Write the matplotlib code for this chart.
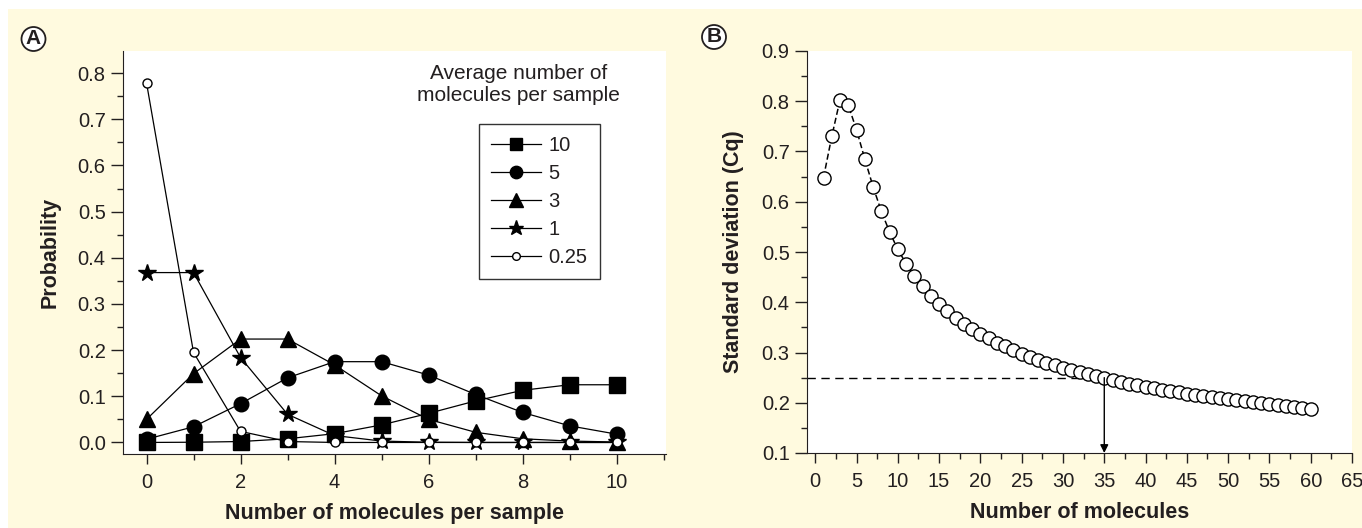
import numpy as np
import matplotlib.pyplot as plt
from matplotlib.patches import Rectangle
from matplotlib.ticker import MultipleLocator

plt.rcParams['font.family'] = ['Liberation Sans', 'DejaVu Sans']

# Panel A: probability of n molecules per sample
n_vals = list(range(11))
p10 = [0.0, 0.0005, 0.002, 0.008, 0.019, 0.038, 0.063, 0.090, 0.113, 0.125, 0.125]
p5 = [0.007, 0.034, 0.084, 0.140, 0.175, 0.175, 0.146, 0.104, 0.065, 0.036, 0.018]
p3 = [0.050, 0.149, 0.224, 0.224, 0.168, 0.101, 0.050, 0.022, 0.008, 0.003, 0.001]
p1 = [0.368, 0.368, 0.184, 0.061, 0.015, 0.003, 0.0005, 0.0, 0.0, 0.0, 0.0]
p025 = [0.779, 0.195, 0.024, 0.002, 0.0, 0.0, 0.0, 0.0, 0.0, 0.0, 0.0]

# Panel B: standard deviation of Cq vs number of molecules
mol = list(range(1, 61))
sd = [0.648, 0.730, 0.803, 0.792, 0.743, 0.685, 0.630, 0.581, 0.540, 0.505,
      0.477, 0.453, 0.432, 0.413, 0.397, 0.382, 0.369, 0.357, 0.347, 0.337,
      0.328, 0.319, 0.312, 0.305, 0.298, 0.292, 0.286, 0.280, 0.275, 0.270,
      0.265, 0.261, 0.257, 0.253, 0.249, 0.245, 0.241, 0.238, 0.235, 0.232,
      0.229, 0.226, 0.223, 0.221, 0.218, 0.216, 0.214, 0.211, 0.209, 0.207,
      0.205, 0.203, 0.201, 0.199, 0.197, 0.195, 0.194, 0.192, 0.190, 0.188]
target_sd = 0.25
target_n = 35

fig = plt.figure(figsize=(13.62, 5.28), dpi=100)
fig.patch.set_facecolor('white')
fig.patches.append(Rectangle((8/1362, 0), 1, 519/528, transform=fig.transFigure,
                             facecolor='#fffadf', edgecolor='none', zorder=-10))

txt = '#231f20'

def style(ax):
    ax.spines['top'].set_visible(False)
    ax.spines['right'].set_visible(False)
    ax.spines['left'].set_color(txt)
    ax.spines['bottom'].set_color(txt)
    ax.tick_params(which='both', direction='out', colors=txt, labelsize=14.5, width=1)
    ax.tick_params(axis='y', which='major', length=8.5, pad=4)
    ax.tick_params(axis='y', which='minor', length=4.5)
    ax.tick_params(axis='x', which='major', length=7.5, pad=6)
    ax.tick_params(axis='x', which='minor', length=4)
    ax.set_facecolor('white')

# ---- A ----
axA = fig.add_axes([123/1362, 1 - 454/528, 543/1362, 403/528])
style(axA)
lw = 0.9
axA.plot(n_vals, p10, '-s', color='black', ms=11, lw=lw, label='10')
axA.plot(n_vals, p5, '-o', color='black', ms=10.5, lw=lw, label='5')
axA.plot(n_vals, p3, '-^', color='black', ms=11.5, lw=lw, label='3')
axA.plot(n_vals, p1, '-*', color='black', ms=13, lw=lw, label='1')
axA.plot(n_vals, p025, '-o', color='black', mfc='white', ms=6.5, lw=lw, label='0.25')
axA.set_xlim(-0.5, 11.05)
axA.set_ylim(-0.025, 0.848)
axA.xaxis.set_major_locator(MultipleLocator(2))
axA.xaxis.set_minor_locator(MultipleLocator(1))
axA.yaxis.set_minor_locator(MultipleLocator(0.05))
axA.set_yticks(np.arange(0, 0.81, 0.1))
axA.set_yticklabels(['%.1f' % v for v in np.arange(0, 0.81, 0.1)])
axA.set_xlabel('Number of molecules per sample', fontsize=15.5, fontweight='bold',
               color=txt, labelpad=8)
axA.set_ylabel('Probability', fontsize=15.5, fontweight='bold', color=txt, labelpad=12)
leg = axA.legend(loc='upper left', bbox_to_anchor=((479 - 123)/543, 1 - (124 - 51)/403),
                 frameon=True, fancybox=False, edgecolor='black', fontsize=14.5,
                 handlelength=2.5, handletextpad=0.35, borderpad=0.6, labelspacing=0.45,
                 markerscale=0.85, borderaxespad=0)
leg.get_frame().set_linewidth(1)
for t in leg.get_texts():
    t.set_color(txt)
axA.text(0.729, 0.918, 'Average number of\nmolecules per sample', transform=axA.transAxes,
         ha='center', va='center', fontsize=15, color=txt, linespacing=1.2)

# ---- B ----
axB = fig.add_axes([807/1362, 1 - 453/528, 545/1362, 402/528])
style(axB)
axB.plot(mol, sd, linestyle=(0, (4, 2)), color='black', lw=1.1, marker='o', ms=9.5,
         mfc='white', mec='black', mew=1)
axB.plot([-1, target_n], [target_sd, target_sd], linestyle=(0, (6, 4)), color='black',
         lw=1, zorder=1)
axB.annotate('', xy=(target_n, 0.1), xytext=(target_n, target_sd),
             arrowprops=dict(arrowstyle='-|>', color='black', lw=1, mutation_scale=12,
                             shrinkA=0, shrinkB=0))
axB.set_xlim(-1, 65)
axB.set_ylim(0.1, 0.9)
axB.xaxis.set_major_locator(MultipleLocator(5))
axB.xaxis.set_minor_locator(MultipleLocator(2.5))
axB.yaxis.set_minor_locator(MultipleLocator(0.05))
axB.set_yticks(np.arange(0.1, 0.91, 0.1))
axB.set_yticklabels(['%.1f' % v for v in np.arange(0.1, 0.91, 0.1)])
axB.set_xlabel('Number of molecules', fontsize=15.5, fontweight='bold', color=txt,
               labelpad=8)
axB.set_ylabel('Standard deviation (Cq)', fontsize=15.5, fontweight='bold', color=txt,
               labelpad=13)

for x, y, lab in [(33.5, 39, 'A'), (714, 37, 'B')]:
    fig.text(x/1362, 1 - y/528, lab, ha='center', va='center', fontsize=15,
             fontweight='bold', color=txt,
             bbox=dict(boxstyle='circle,pad=0.12', facecolor='white', edgecolor=txt, lw=1.3))

fig.savefig('out.png', dpi=100)
